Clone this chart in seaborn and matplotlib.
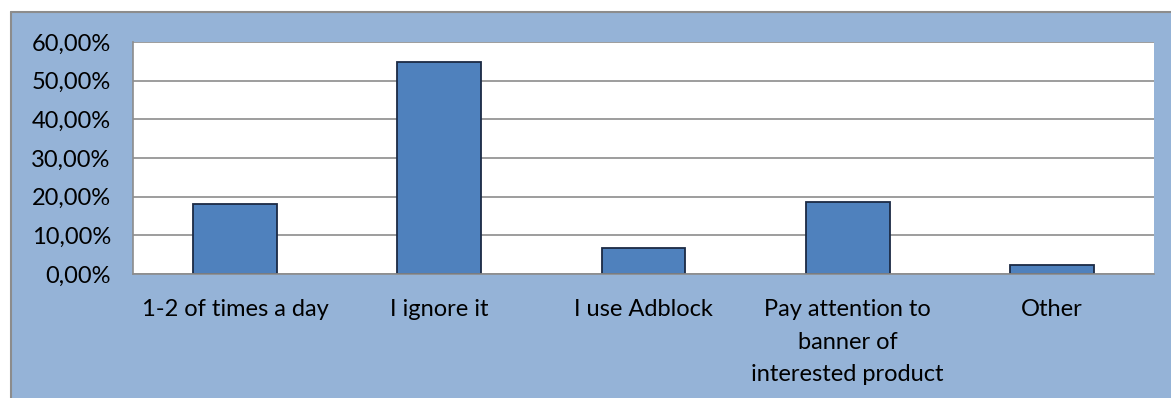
import matplotlib
matplotlib.use("Agg")
import matplotlib.pyplot as plt
import matplotlib.patches as mpatches
from matplotlib.lines import Line2D
from matplotlib.ticker import FuncFormatter, FixedLocator
import seaborn as sns
import pandas as pd

categories = ["1-2 of times a day", "I ignore it", "I use Adblock",
              "Pay attention to\nbanner of\ninterested product", "Other"]
values = [0.181, 0.548, 0.067, 0.186, 0.023]

sns.set_style("white")
plt.rcParams['font.family'] = ['Lato', 'DejaVu Sans']

W, H = 1171, 398
fig = plt.figure(figsize=(W / 100, H / 100), dpi=100)
fig.patch.set_facecolor("white")

# chart area background (bleeds off right and bottom edges)
x0, ytop = 11 / W, (H - 12) / H
bg = mpatches.Rectangle((x0, 0), 1.0, ytop, transform=fig.transFigure,
                        facecolor="#95B3D7", edgecolor="none", zorder=-10)
fig.patches.append(bg)
fig.lines.append(Line2D([x0, 1.0], [ytop, ytop], transform=fig.transFigure,
                        color="#8C8C8C", linewidth=1.5, zorder=-9))
fig.lines.append(Line2D([x0, x0], [0, ytop], transform=fig.transFigure,
                        color="#8C8C8C", linewidth=1.5, zorder=-9))

ax = fig.add_axes([133 / W, (H - 274) / H, (1154 - 133) / W, (274 - 42) / H])
ax.set_zorder(5)
ax.set_facecolor("white")

df = pd.DataFrame({"cat": categories, "val": values})
sns.barplot(data=df, x="cat", y="val", ax=ax, color="#4F81BD",
            edgecolor="#1B2A44", linewidth=1.3, width=0.41, saturation=1)

ax.set_ylim(0, 0.6)
ax.set_xlim(-0.5, len(categories) - 0.5)
ax.yaxis.set_major_locator(FixedLocator([i / 10 for i in range(7)]))
ax.yaxis.set_major_formatter(FuncFormatter(lambda v, p: f"{v*100:.2f}%".replace(".", ",")))
ax.grid(axis="y", color="#8C8C8C", linewidth=1.2)
ax.set_axisbelow(True)
ax.set_xlabel("")
ax.set_ylabel("")

for s in ["top", "right"]:
    ax.spines[s].set_visible(False)
for s in ["left", "bottom"]:
    ax.spines[s].set_color("#8C8C8C")
    ax.spines[s].set_linewidth(1.2)

ax.tick_params(axis="y", length=8, color="#8C8C8C", width=1.2, labelsize=17,
               pad=8, labelcolor="black")
ax.tick_params(axis="x", which="major", length=0, labelsize=17, pad=18,
               labelcolor="black")
ax.set_xticks(range(len(categories)))
ax.set_xticklabels(categories, linespacing=1.68, va="top")
ax.set_xticks([i - 0.5 for i in range(len(categories) + 1)], minor=True)
ax.tick_params(axis="x", which="minor", length=7, color="#8C8C8C", width=1.2)

fig.savefig("out.png", dpi=100, facecolor="white")
